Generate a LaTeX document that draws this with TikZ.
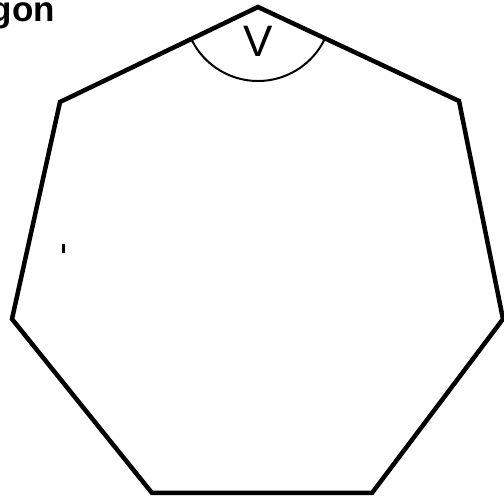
\documentclass[tikz,border=0pt]{standalone}
\usepackage{fontspec}
\setmainfont{Liberation Sans}
\begin{document}
\begin{tikzpicture}[x=1pt,y=-1pt,
  edge/.style={line width=4.5pt, line join=miter},
  anglearc/.style={line width=2pt},
  titletext/.style={font=\fontsize{35}{35}\selectfont\bfseries, inner sep=0pt, anchor=base east},
  labeltext/.style={font=\fontsize{44}{44}\selectfont, inner sep=0pt}]
\useasboundingbox (0,0) rectangle (504,502);
\coordinate (A) at (258,7);
\coordinate (B) at (459,101);
\coordinate (C) at (503,319);
\coordinate (D) at (372,493);
\coordinate (E) at (152,493);
\coordinate (F) at (12,319);
\coordinate (G) at (60,102);
\node[titletext] (title) at (55,22) {Heptagon};
\draw[anglearc] ([shift={(154.4:74)}]A) arc[start angle=154.4, end angle=25.1, radius=74];
\node[labeltext] (v) at (258.5,41) {V};
\draw[edge] (A) -- (B) -- (C) -- (D) -- (E) -- (F) -- (G) -- cycle;
\coordinate (t1) at (63.5,244);
\coordinate (t2) at (63.5,253);
\draw[line width=3.5pt] (t1) -- (t2);
\end{tikzpicture}
\end{document}
